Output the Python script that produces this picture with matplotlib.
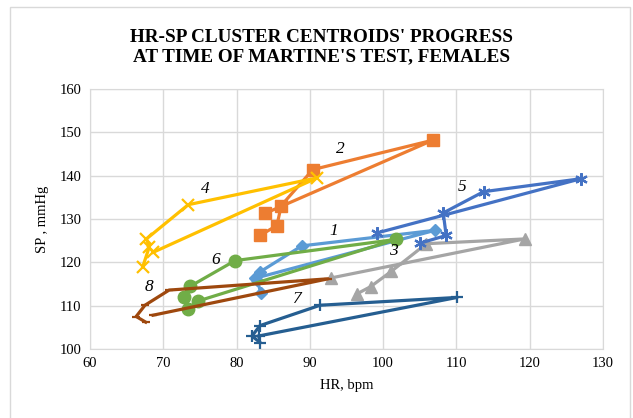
import matplotlib
matplotlib.use("Agg")
import matplotlib.pyplot as plt
from matplotlib.patches import Rectangle

plt.rcParams['font.family'] = ['Liberation Serif', 'DejaVu Serif']

# centroid coordinates (HR, SP) for each cluster, in order of test stages
hr1 = [83.3, 82.8, 83.2, 88.9, 107.1, 82.5]
sp1 = [113.0, 116.0, 117.8, 123.8, 127.4, 116.3]
hr2 = [83.2, 85.5, 86.1, 90.4, 106.8, 83.9]
sp2 = [126.2, 128.5, 133.1, 141.4, 148.2, 131.3]
hr3 = [96.4, 98.3, 101.1, 105.9, 119.3, 92.9]
sp3 = [112.7, 114.4, 117.9, 124.3, 125.4, 116.4]
hr4 = [67.2, 68.1, 67.7, 73.4, 91.0, 68.6]
sp4 = [119.0, 123.6, 125.4, 133.3, 139.5, 122.3]
hr5 = [105.0, 108.6, 108.2, 113.7, 127.0, 99.2]
sp5 = [124.4, 126.2, 131.4, 136.3, 139.3, 126.8]
hr6 = [73.4, 72.8, 73.7, 79.8, 101.8, 74.8]
sp6 = [109.3, 111.9, 114.5, 120.4, 125.3, 111.1]
hr7 = [83.2, 82.1, 83.2, 91.4, 110.1, 83.0]
sp7 = [101.5, 103.0, 105.4, 110.1, 111.9, 103.0]
hr8 = [67.6, 66.3, 67.5, 70.8, 92.5, 68.6]
sp8 = [106.2, 107.5, 110.1, 113.6, 116.2, 107.8]

cluster_names = ['1', '2', '3', '4', '5', '6', '7', '8']
label_x = [93.2, 94.1, 101.4, 75.7, 110.8, 77.1, 88.3, 68.0]
label_y = [127.2, 146.2, 122.6, 137.0, 137.4, 120.6, 111.5, 114.2]

colors = ['#5B9BD5', '#ED7D31', '#A5A5A5', '#FFC000',
          '#4472C4', '#70AD47', '#255E91', '#9E480E']
markers = ['D', 's', '^', 'x', (6, 2, 0), 'o', '+', '_']
msizes = [6, 8, 8, 8, 9, 9, 9, 6]

fig = plt.figure(figsize=(6.33, 4.18), dpi=100)
fig.patches.append(Rectangle((10 / 633, -0.05), 620 / 633, 1.05 - 7 / 418,
                             transform=fig.transFigure, fill=False,
                             edgecolor='#D9D9D9', linewidth=1))
ax = fig.add_axes([90 / 633, 1 - 349 / 418, 513 / 633, 260 / 418])

series = [(hr1, sp1), (hr2, sp2), (hr3, sp3), (hr4, sp4),
          (hr5, sp5), (hr6, sp6), (hr7, sp7), (hr8, sp8)]
for i, (hr, sp) in enumerate(series):
    ax.plot(hr, sp, color=colors[i], linewidth=2.3, marker=markers[i],
            markersize=msizes[i], markeredgewidth=1.6 if i in (3, 4, 6, 7) else 1,
            solid_joinstyle='round')
    ax.text(label_x[i], label_y[i], cluster_names[i], fontsize=12.5,
            style='italic', ha='center', va='center')

ax.set_xlim(60, 130)
ax.set_ylim(100, 160)
ax.set_xticks(range(60, 131, 10))
ax.set_yticks(range(100, 161, 10))
ax.grid(True, color='#D9D9D9', linewidth=1)
ax.set_axisbelow(True)
for s in ax.spines.values():
    s.set_color('#D9D9D9')
ax.tick_params(length=0, labelsize=10.5, pad=6)
ax.set_xlabel('HR, bpm', fontsize=10.5, labelpad=6)
ax.set_ylabel('SP , mmHg', fontsize=10.5, labelpad=8)

fig.text(0.508, 1 - 37 / 418, "HR-SP CLUSTER CENTROIDS' PROGRESS",
         ha='center', va='center', fontsize=13.8, fontweight='bold')
fig.text(0.508, 1 - 57 / 418, "AT TIME OF MARTINE'S TEST, FEMALES",
         ha='center', va='center', fontsize=13.8, fontweight='bold')

fig.savefig('out.png', dpi=100)
